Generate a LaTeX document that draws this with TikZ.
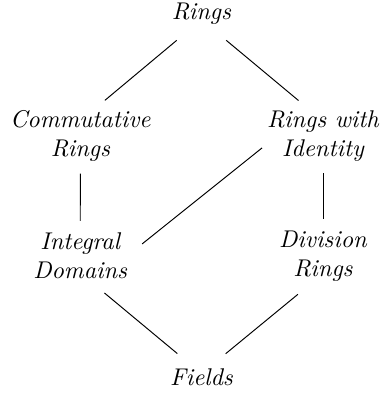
\documentclass[tikz,border=0pt]{standalone}
\usepackage{tikz}

\begin{document}
\begin{tikzpicture}[
				ring/.style={align=center, font=\itshape, inner sep=0pt, outer sep=0pt},
				link/.style={thin}
			]
			\useasboundingbox (0, 0) rectangle (5.519, -5.708);

			\node[ring] (rings) at (2.926, -0.205) {Rings};
			\node[ring] (comm) at (1.167, -1.975) {Commutative\\Rings};
			\node[ring] (ident) at (4.691, -1.975) {Rings with\\Identity};
			\node[ring] (integral) at (1.165, -3.718) {Integral\\Domains};
			\node[ring] (division) at (4.691, -3.718) {Division\\Rings};
			\node[ring] (fields) at (2.926, -5.484) {Fields};

			\draw[link, shorten <=10pt, shorten >=6.5pt] (rings.240) -- (comm.64);
			\draw[link, shorten <=10pt, shorten >=6.5pt] (rings.300) -- (ident.116);
			\draw[link, shorten <=5pt, shorten >=5pt] (comm.south) -- (integral.north);
			\draw[link, shorten <=5pt, shorten >=5pt] (ident.south) -- (division.north);
			\draw[link, shorten <=8pt, shorten >=2.7pt] (integral.east) -- (ident.188);
			\draw[link, shorten <=9pt, shorten >=10pt] (integral.288) -- (fields.123);
			\draw[link, shorten <=8.5pt, shorten >=10pt] (division.250) -- (fields.57);
		\end{tikzpicture}
\end{document}
